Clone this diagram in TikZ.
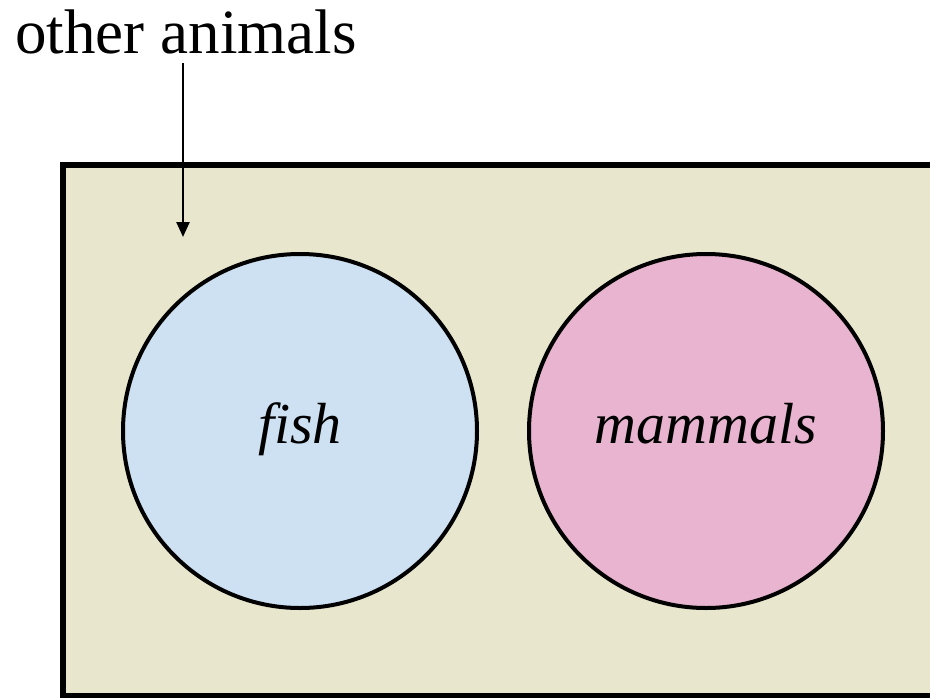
\documentclass[tikz,border=0pt]{standalone}
\usepackage{fontspec}
\setmainfont{Liberation Serif}
\usetikzlibrary{arrows.meta}
\definecolor{fondo}{RGB}{232,231,205}
\definecolor{azulpez}{RGB}{205,225,242}
\definecolor{rosamam}{RGB}{232,180,207}

\begin{document}
\begin{tikzpicture}[x=1pt, y=-1pt,
    conjunto/.style={circle, draw, line width=4pt, minimum size=354pt,
        inner sep=0pt, text height=24pt, text depth=0pt,
        font=\fontsize{58}{58}\selectfont\itshape},
    flecha/.style={-{Triangle[length=15pt,width=13pt]}, line width=2.4pt}]
    \useasboundingbox (0,0) rectangle (930,697);
    \clip (0,0) rectangle (930,697);

    % Universo: el resto de los animales.
    \draw[line width=6pt, fill=fondo] (62.5,165) rectangle (980,696);

    % Conjuntos disjuntos dentro del universo.
    \node[conjunto, fill=azulpez] (pez) at (300,431) {fish};
    \node[conjunto, fill=rosamam] (mamifero) at (706,431) {mammals};

    % Etiqueta del universo con su flecha.
    \node[anchor=base, inner sep=9pt, font=\fontsize{63}{63}\selectfont]
        (otros) at (186,53) {other animals};
    \coordinate (punta) at (183,237);
    \draw[flecha] (otros.south -| punta) -- (punta);
\end{tikzpicture}
\end{document}
